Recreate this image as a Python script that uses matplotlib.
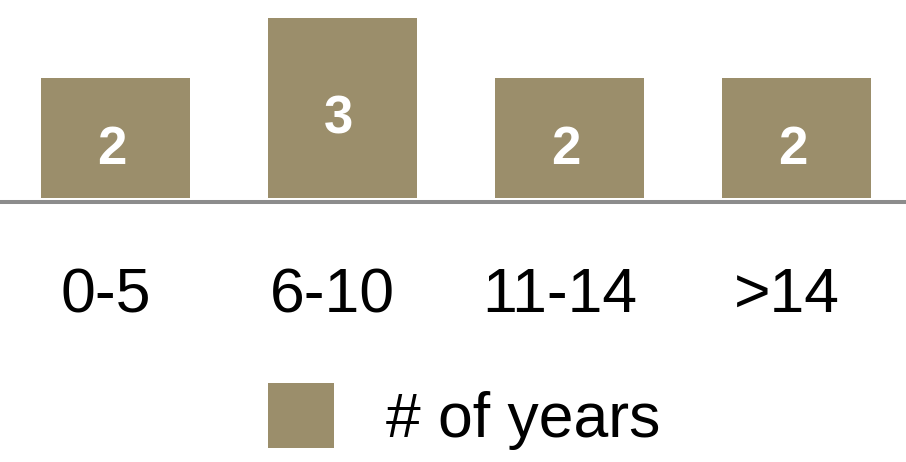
import matplotlib
matplotlib.use("Agg")
import matplotlib.pyplot as plt
import matplotlib.transforms as mtransforms
import numpy as np

# data
categorias = ["0-5", "6-10", "11-14", ">14"]
anos = [2, 3, 2, 2]
serie = "# of years"

cor = "#9b8e6b"

plt.rcParams['font.family'] = ['Liberation Sans', 'DejaVu Sans']

fig = plt.figure(figsize=(9.06, 4.62), dpi=100)
ax = fig.add_axes([0, (462 - 198) / 462, 1, 198 / 462])

x = np.arange(len(categorias))
barras = ax.bar(x, anos, width=0.656, color=cor, label=serie)

# valores dentro das barras
for xi, v in zip(x, anos):
    ax.annotate(str(v), (xi, v / 2), xytext=(-4, -12), textcoords='offset pixels',
                ha='center', va='center', color='white', fontsize=38, fontweight='bold')

ax.set_xlim(-0.509, 3.482)
ax.set_ylim(0, 3.3)
ax.set_yticks([])
ax.set_xticks(x, categorias)
ax.tick_params(axis='x', length=0, pad=49, labelsize=45)
desloc = mtransforms.ScaledTranslation(-10 / 100, 0, fig.dpi_scale_trans)
for lbl in ax.get_xticklabels():
    lbl.set_transform(lbl.get_transform() + desloc)
for s in ax.spines.values():
    s.set_visible(False)

# linha do eixo
ax.axhline(-0.067, color='#8c8c8c', lw=2.9, clip_on=False)

fig.legend(handles=[barras], loc='center', bbox_to_anchor=(0.5127, 0.0985),
           frameon=False, fontsize=45, handlelength=1.056, handleheight=1.22,
           handletextpad=0.83, borderpad=0)

fig.savefig("out.png", dpi=100)
